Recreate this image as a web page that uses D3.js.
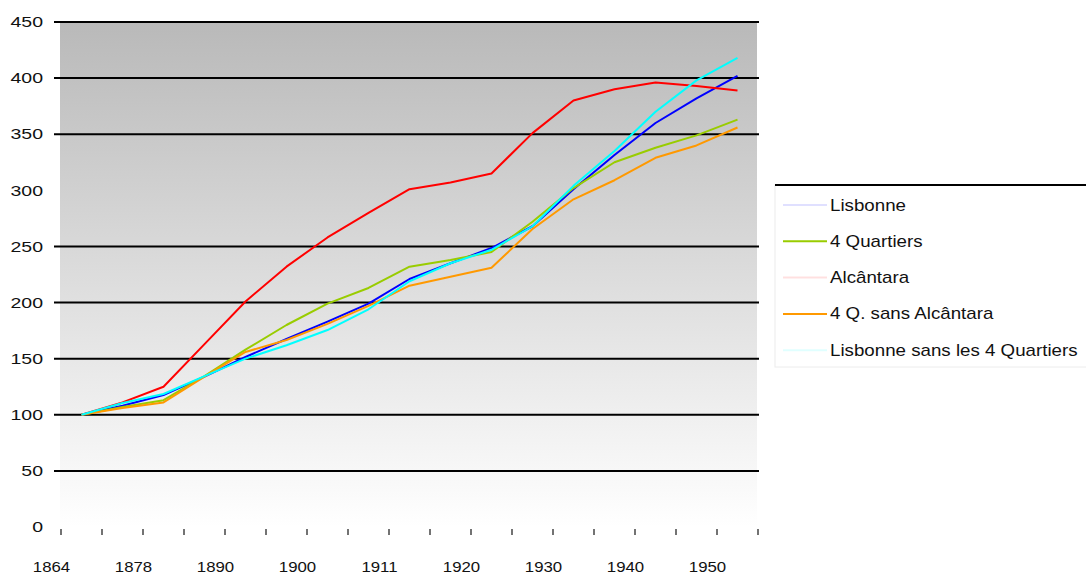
<!DOCTYPE html>
<html>
<head>
<meta charset="utf-8">
<script src="https://cdn.jsdelivr.net/npm/d3@7"></script>
<style>
  html, body { margin: 0; padding: 0; background: #fff; }
  svg { display: block; font-family: "Liberation Sans", Arial, sans-serif; }
</style>
</head>
<body>
<svg id="chart" width="1086" height="575"></svg>
<script>
// Population index (first census = 100), 17 evenly spaced points
const periods = d3.range(17);
const yearLabels = ["1864", "1878", "1890", "1900", "1911", "1920", "1930", "1940", "1950"];
const yearLabelIndex = [0, 2, 4, 6, 8, 10, 12, 14, 16];

const lisbonne        = [100, 108, 117.6, 134, 151.5, 167.5, 183, 199, 221, 235, 248.6, 268, 301, 331.5, 360, 382, 402];
const quatreQuartiers = [100, 107, 113, 134.5, 158, 180, 199, 213, 232, 238, 245, 272, 302, 325, 338, 349, 363];
const alcantara       = [100, 111, 125, 163, 201, 232, 258, 280, 301, 307, 315, 351, 380, 390, 396, 393, 389];
const quartiersSansAlcantara = [100, 106, 111, 134, 156, 166.6, 181, 197, 215, 223, 231, 265.5, 292, 309, 329, 340, 356];
const lisbonneSansQuartiers  = [100, 110.5, 118.5, 134.5, 150, 162, 175.5, 194, 219, 235, 247, 268, 304, 335, 370, 398, 418];

const seriesNames  = ["Lisbonne", "4 Quartiers", "Alcântara", "4 Q. sans Alcântara", "Lisbonne sans les 4 Quartiers"];
const seriesValues = [lisbonne, quatreQuartiers, alcantara, quartiersSansAlcantara, lisbonneSansQuartiers];
const seriesColors = ["#0000ff", "#99cc00", "#ff0000", "#ff9900", "#00ffff"];
// legend swatches: some are drawn very pale
const legendSwatchOpacity = [0.12, 1, 0.12, 1, 0.12];

const yTickValues = [0, 50, 100, 150, 200, 250, 300, 350, 400, 450];
const gridValues  = [50, 100, 150, 200, 250, 350, 400, 450];

const svg = d3.select("#chart");

const plot = { left: 60, right: 757, top: 22, bottom: 527 };

const x = d3.scaleBand().domain(periods).range([61, 758]).paddingInner(0).paddingOuter(0);
const xc = i => x(i) + x.bandwidth() / 2;
const y = d3.scaleLinear().domain([0, 450]).range([plot.bottom, plot.top]);

// plot area background: grey fading to white
const defs = svg.append("defs");
const grad = defs.append("linearGradient")
  .attr("id", "plotBg").attr("x1", 0).attr("y1", 0).attr("x2", 0).attr("y2", 1);
grad.append("stop").attr("offset", "0%").attr("stop-color", "#b9b9b9");
grad.append("stop").attr("offset", "100%").attr("stop-color", "#ffffff");

svg.append("rect")
  .attr("x", plot.left).attr("y", plot.top)
  .attr("width", plot.right - plot.left).attr("height", plot.bottom - plot.top)
  .attr("fill", "url(#plotBg)");

// horizontal gridlines
svg.append("g").selectAll("line").data(gridValues).join("line")
  .attr("x1", 54).attr("x2", 759)
  .attr("y1", d => y(d)).attr("y2", d => y(d))
  .attr("stroke", "#000").attr("stroke-width", 2);

// y labels
svg.append("g").selectAll("g").data(yTickValues).join("g")
  .attr("transform", d => `translate(43,${y(d)}) scale(1.3,1)`)
  .append("text")
  .attr("text-anchor", "end").attr("dominant-baseline", "central")
  .attr("font-size", 15).attr("fill", "#111")
  .text(d => d);

// x tick marks at category boundaries
const boundaries = periods.map(i => x(i)).concat([x.range()[1]]);
svg.append("g").selectAll("line").data(boundaries).join("line")
  .attr("x1", d => d).attr("x2", d => d)
  .attr("y1", 529).attr("y2", 535)
  .attr("stroke", "#444").attr("stroke-width", 1.5);

// x labels
svg.append("g").selectAll("g").data(yearLabels).join("g")
  .attr("transform", (d, j) => `translate(${xc(yearLabelIndex[j]) - 30},572) scale(1.12,1)`)
  .append("text")
  .attr("text-anchor", "middle")
  .attr("font-size", 15).attr("fill", "#111")
  .text(d => d);

// series lines
const line = d3.line().x((d, i) => xc(periods[i])).y(d => y(d));
svg.append("g").selectAll("path").data(seriesValues).join("path")
  .attr("d", d => line(d))
  .attr("fill", "none")
  .attr("stroke", (d, i) => seriesColors[i])
  .attr("stroke-width", 2)
  .attr("stroke-linejoin", "round");

// legend
const legend = svg.append("g");
legend.append("rect")
  .attr("x", 775).attr("y", 185).attr("width", 320).attr("height", 182)
  .attr("fill", "#fff").attr("stroke", "#ececec");
legend.append("line")
  .attr("x1", 775).attr("x2", 1086).attr("y1", 185).attr("y2", 185)
  .attr("stroke", "#000").attr("stroke-width", 2);

const items = legend.selectAll("g.item").data(seriesNames).join("g")
  .attr("class", "item")
  .attr("transform", (d, i) => `translate(0,${205 + i * 36.3})`);
items.append("line")
  .attr("x1", 783).attr("x2", 827).attr("y1", 0).attr("y2", 0)
  .attr("stroke", (d, i) => seriesColors[i])
  .attr("stroke-opacity", (d, i) => legendSwatchOpacity[i])
  .attr("stroke-width", 2);
items.append("g")
  .attr("transform", "translate(830,0) scale(1.17,1)")
  .append("text")
  .attr("dominant-baseline", "central")
  .attr("font-size", 16).attr("fill", "#111")
  .text(d => d);
</script>
</body>
</html>
